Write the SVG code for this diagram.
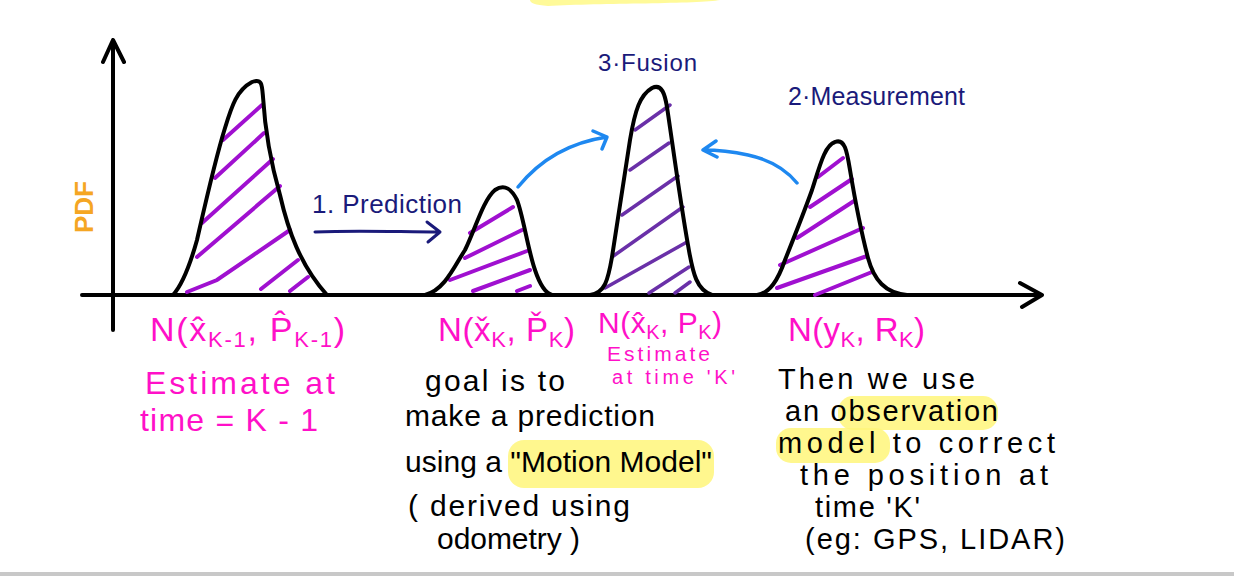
<svg xmlns="http://www.w3.org/2000/svg" width="1234" height="576" viewBox="0 0 1234 576">
<defs>
<style>
.ax{stroke:#000;stroke-width:4;fill:none;stroke-linecap:round;stroke-linejoin:round}
.curve{stroke:#000;stroke-width:4;fill:none;stroke-linecap:round;stroke-linejoin:round}
.h1{stroke:#A010D0;stroke-width:4;fill:none;stroke-linecap:round}
.h2{stroke:#6A30A8;stroke-width:3.5;fill:none;stroke-linecap:round}
.blue{stroke:#1E88F0;stroke-width:3.5;fill:none;stroke-linecap:round;stroke-linejoin:round}
.navy{stroke:#1A1A7A;stroke-width:3;fill:none;stroke-linecap:round;stroke-linejoin:round}
.hl{fill:#FFF67A;opacity:0.85}
text{font-family:"Liberation Sans","DejaVu Sans",sans-serif}
.pink{fill:#FF10C8}
.nv{fill:#1A1A7A}
.blk{fill:#000}
</style>
</defs>
<rect width="1234" height="576" fill="#fff"/>
<path d="M530,0 L720,0 C700,4 600,3 548,6 C535,5 530,3 530,0 Z" fill="#FFFA99"/>
<rect x="0" y="572" width="1234" height="4" fill="#C8C8C8"/>

<g id="axes">
<path class="ax" d="M113,330 L113,40 M103,62 L113,40 L124,62"/>
<path class="ax" d="M82,295 L1042,295 M1020,283 L1042,295 L1022,307"/>
<text transform="translate(93,207) rotate(-90)" text-anchor="middle" font-size="26" font-weight="bold" fill="#F5A623">PDF</text>
</g>

<g id="curve-prev">
<path class="h1" d="M223,140 L262,105 M215,178 L264,133 M202,223 L273,159 M197,257 L280,186 M187,292 L217,280 L290,230 M261,289 L298,260 M290,291 L308,277"/>
<path class="curve" d="M173,295 C182,285 190,265 197,240 C205,205 215,160 225,128 C232,105 237,90 252,82 C262,78 262,85 263,97 C265,130 270,160 280,195 C288,230 300,265 327,295"/>
</g>

<g id="curve-pred">
<path class="h1" d="M470,233 L513,207 M465,258 L522,230 M450,280 L527,251 M473,291 L530,270 M517,291 L530,286"/>
<path class="curve" d="M425,295 C445,290 455,265 465,250 C475,230 483,200 495,190 C505,183 512,190 517,200 C523,215 528,250 535,270 C540,285 545,293 552,295"/>
</g>

<g id="curve-fusion">
<path class="h2" d="M635,130 L670,105 M630,170 L669,143 M622,215 L678,176 M612,257 L683,207 M605,288 L687,242 M649,293 L689,267 M675,293 L690,282"/>
<path class="curve" d="M590,295 C605,293 608,280 612,257 C618,220 624,180 630,140 C635,110 640,95 652,88 C662,83 665,95 667,107 C672,140 680,200 688,245 C693,275 697,290 712,295"/>
</g>

<g id="curve-meas">
<path class="h1" d="M818,177 L843,158 M810,207 L852,179 M797,238 L854,201 M780,265 L863,228 M777,288 L867,256 M815,295 L872,272"/>
<path class="curve" d="M757,295 C770,293 778,280 785,260 C795,235 803,215 812,190 C820,165 825,145 835,142 C845,138 847,152 850,170 C855,200 862,235 868,258 C874,280 885,293 907,295"/>
</g>

<g id="connectors">
<path class="navy" d="M315,232 C360,230 400,232 440,232 M427,222 L440,232 L428,242"/>
<path class="blue" d="M518,187 Q552,145 607,137 M593,131 L607,137 L602,149"/>
<path class="blue" d="M797,183 Q780,162 748,155 Q725,150 703,150 M716,141 L703,150 L717,157"/>
</g>

<g id="stage-labels">
<text class="nv" x="312" y="213" font-size="26" textLength="150">1. Prediction</text>
<text class="nv" x="598" y="71" font-size="24" textLength="99">3·Fusion</text>
<text class="nv" x="788" y="105" font-size="25" textLength="177">2·Measurement</text>
</g>

<g id="label-prev">
<text class="pink" x="150" y="341" font-size="34" textLength="195">N(x̂<tspan font-size="22" dy="6">K-1</tspan><tspan dy="-6">, P̂</tspan><tspan font-size="22" dy="6">K-1</tspan><tspan dy="-6">)</tspan></text>
<text class="pink" x="145" y="394" font-size="32" textLength="190">Estimate at</text>
<text class="pink" x="140" y="431" font-size="32" textLength="178">time = K - 1</text>
</g>

<g id="label-pred">
<text class="pink" x="438" y="341" font-size="33" textLength="137">N(x̌<tspan font-size="22" dy="6">K</tspan><tspan dy="-6">, P̌</tspan><tspan font-size="22" dy="6">K</tspan><tspan dy="-6">)</tspan></text>
<rect class="hl" x="508" y="440" width="206" height="48" rx="16"/>
<g class="blk" font-size="30">
<text x="425" y="391" textLength="140">goal is to</text>
<text x="405" y="426" textLength="250">make a prediction</text>
<text x="405" y="472" textLength="307">using a "Motion Model"</text>
<text x="408" y="516" textLength="222">( derived using</text>
<text x="437" y="549" textLength="143">odometry )</text>
</g>
</g>

<g id="label-fusion">
<text class="pink" x="598" y="333" font-size="30" textLength="124">N(x̂<tspan font-size="20" dy="6">K</tspan><tspan dy="-6">, P</tspan><tspan font-size="20" dy="6">K</tspan><tspan dy="-6">)</tspan></text>
<text class="pink" x="607" y="361" font-size="21" textLength="103">Estimate</text>
<text class="pink" x="612" y="384" font-size="20" textLength="123">at time 'K'</text>
</g>

<g id="label-meas">
<text class="pink" x="788" y="341" font-size="33" textLength="137">N(y<tspan font-size="22" dy="6">K</tspan><tspan dy="-6">, R</tspan><tspan font-size="22" dy="6">K</tspan><tspan dy="-6">)</tspan></text>
<rect class="hl" x="838" y="396" width="160" height="34" rx="15"/>
<rect class="hl" x="776" y="428" width="114" height="35" rx="15"/>
<g class="blk" font-size="29">
<text x="778" y="389" textLength="197">Then we use</text>
<text x="785" y="421" textLength="213">an observation</text>
<text x="778" y="453" textLength="277">model to correct</text>
<text x="800" y="485" textLength="248">the position at</text>
<text x="815" y="517" textLength="105">time 'K'</text>
<text x="805" y="549" textLength="260">(eg: GPS, LIDAR)</text>
</g>
</g>
</svg>
